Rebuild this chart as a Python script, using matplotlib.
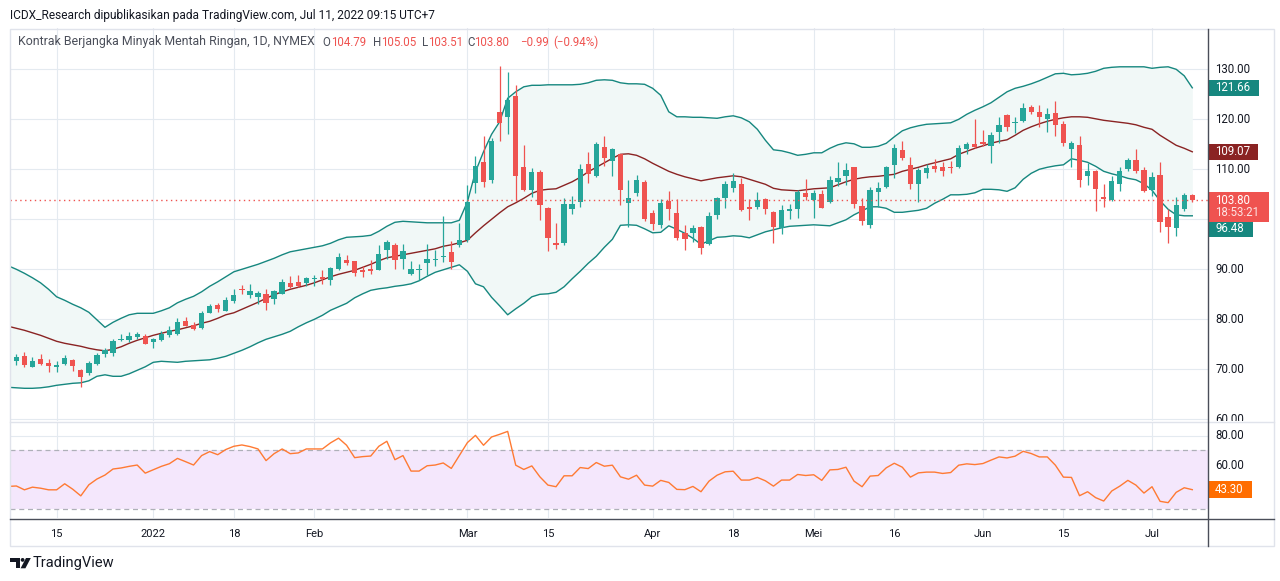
import numpy as np
import pandas as pd
import matplotlib
matplotlib.use('Agg')
import matplotlib.pyplot as plt
from matplotlib.patches import Rectangle, Polygon, Circle

W, H = 1280, 581
plt.rcParams['font.family'] = ['Roboto', 'DejaVu Sans']

#***** Data *****
holidays = ['2021-12-24', '2022-01-17', '2022-02-21', '2022-04-15',
            '2022-05-30', '2022-06-20', '2022-07-04']
dates = pd.bdate_range('2021-12-07', '2022-07-11', freq='C', holidays=holidays)

opens = [69.7, 71.73, 72.67, 70.53, 72.07, 71.27, 70.4, 71.07, 71.87, 69.87,
         69.2, 71.07, 73.0, 73.33, 75.87, 75.87, 76.53, 76.67, 75.47, 75.87,
         76.87, 77.07, 79.67, 78.87, 78.27, 81.33, 82.87, 81.73, 83.73, 85.93,
         84.87, 84.53, 85.07, 84.13, 85.13, 87.27, 87.47, 87.27, 88.0, 88.47,
         87.87, 90.07, 91.87, 91.67, 89.93, 90.07, 89.87, 93.87, 94.87, 92.07,
         89.07, 89.93, 91.33, 91.8, 92.4, 93.47, 94.87, 95.87, 107.2, 111.4,
         107.87, 121.4, 120.53, 124.67, 110.4, 105.87, 109.53, 102.33, 95.2, 95.33,
         102.07, 103.53, 111.07, 108.73, 114.47, 111.73, 113.0, 103.33, 105.2, 107.53,
         101.2, 98.87, 103.73, 101.2, 97.2, 97.2, 98.53, 95.07, 100.87, 104.2,
         106.33, 107.07, 102.47, 102.53, 104.07, 101.53, 98.33, 101.73, 102.07, 105.2,
         103.87, 105.07, 103.53, 107.53, 108.73, 110.47, 102.67, 98.87, 105.53, 106.53,
         110.87, 113.87, 110.87, 107.0, 109.2, 110.67, 110.4, 110.4, 110.53, 114.07,
         115.0, 115.4, 114.73, 117.53, 120.87, 119.2, 119.73, 122.4, 121.4, 120.07,
         121.2, 119.07, 114.07, 114.87, 108.67, 109.67, 104.4, 103.87, 107.07, 110.0,
         111.87, 109.87, 105.87, 108.87, 100.4, 98.2, 102.07, 104.79]
highs = [72.5, 73.07, 73.47, 72.4, 73.07, 72.07, 71.67, 72.87, 72.07, 70.13,
         71.67, 73.27, 74.2, 76.07, 77.07, 77.47, 77.47, 77.07, 76.27, 77.67,
         78.67, 80.27, 80.47, 79.47, 81.67, 83.07, 83.33, 84.47, 86.07, 86.8,
         87.07, 85.67, 86.07, 85.87, 88.07, 88.67, 88.87, 88.47, 88.87, 89.87,
         90.47, 93.27, 92.87, 91.67, 90.67, 91.87, 94.87, 95.87, 95.27, 95.07,
         91.67, 91.07, 95.07, 93.87, 100.67, 95.67, 99.2, 106.87, 112.67, 116.67,
         116.2, 130.67, 129.53, 126.87, 114.87, 110.2, 109.87, 102.53, 99.2, 104.2,
         104.67, 111.07, 113.4, 115.4, 116.67, 114.2, 113.0, 107.87, 108.87, 107.87,
         101.87, 104.0, 105.67, 104.07, 98.87, 98.87, 98.73, 101.53, 104.53, 107.67,
         109.2, 108.33, 104.07, 105.53, 104.33, 101.73, 102.87, 103.07, 105.87, 108.07,
         105.87, 105.87, 108.67, 111.53, 111.33, 110.47, 104.2, 106.53, 107.53, 110.73,
         115.07, 115.67, 112.53, 110.2, 111.07, 112.0, 111.53, 111.67, 114.87, 115.53,
         120.07, 117.87, 117.53, 120.53, 121.07, 120.53, 123.2, 122.87, 122.87, 122.33,
         123.67, 119.67, 115.67, 116.67, 111.33, 109.87, 107.07, 108.73, 110.53, 112.33,
         114.07, 110.53, 109.4, 111.4, 102.07, 104.4, 105.2, 105.05]
lows = [69.5, 70.87, 70.53, 70.4, 70.8, 69.53, 69.53, 70.93, 69.73, 66.4,
        68.87, 70.87, 72.4, 72.73, 75.73, 75.47, 76.13, 75.0, 74.27, 75.67,
        76.53, 76.87, 78.67, 77.87, 78.07, 81.2, 81.47, 81.6, 83.27, 85.07,
        84.33, 83.07, 81.93, 83.07, 85.07, 86.27, 86.4, 86.67, 86.67, 87.07,
        86.87, 89.87, 90.87, 88.67, 88.53, 89.07, 89.87, 92.07, 90.07, 90.07,
        88.87, 87.87, 88.87, 90.67, 91.53, 90.07, 94.53, 95.53, 105.33, 106.53,
        107.33, 115.67, 117.07, 103.73, 105.73, 104.53, 99.87, 93.67, 94.07, 94.87,
        101.07, 102.53, 107.33, 108.53, 110.73, 108.73, 102.87, 98.53, 104.73, 99.67,
        97.87, 98.2, 99.87, 95.87, 93.87, 95.4, 93.07, 94.87, 100.0, 102.33,
        105.53, 101.67, 99.87, 102.07, 101.07, 95.33, 97.07, 100.0, 100.33, 103.87,
        100.33, 102.2, 103.2, 106.67, 106.87, 102.33, 98.87, 98.33, 102.53, 106.33,
        108.33, 111.87, 106.07, 103.4, 108.33, 109.4, 108.73, 109.33, 110.33, 113.0,
        114.33, 114.73, 111.33, 115.2, 117.67, 117.33, 119.53, 121.0, 118.53, 117.53,
        116.73, 114.73, 110.53, 106.53, 106.87, 101.73, 102.53, 103.73, 105.67, 109.67,
        109.33, 105.4, 104.67, 97.53, 95.33, 96.73, 101.67, 103.51]
closes = [72.07, 72.4, 70.87, 71.67, 71.07, 70.73, 70.87, 72.27, 70.73, 68.53,
          71.27, 72.87, 73.93, 75.67, 76.07, 76.67, 77.07, 75.07, 76.07, 77.07,
          77.87, 79.47, 78.73, 78.07, 81.27, 82.67, 82.07, 83.87, 84.87, 85.8,
          85.67, 85.27, 83.33, 85.67, 87.47, 86.47, 86.67, 88.27, 88.2, 88.13,
          90.27, 92.47, 91.33, 89.33, 89.53, 89.73, 93.07, 95.47, 91.87, 93.67,
          90.0, 90.07, 92.07, 91.87, 92.73, 91.47, 95.87, 103.53, 110.67, 107.53,
          115.67, 119.33, 123.87, 108.73, 105.87, 109.53, 102.87, 96.33, 94.87, 103.07,
          103.07, 110.07, 109.07, 115.07, 112.33, 114.0, 105.87, 104.2, 107.87, 100.0,
          99.07, 103.2, 102.0, 96.2, 96.0, 98.2, 94.2, 100.67, 104.2, 107.0,
          107.67, 101.87, 102.13, 103.87, 102.0, 98.4, 101.87, 102.07, 105.53, 104.53,
          105.33, 102.33, 107.87, 108.27, 109.87, 103.0, 99.73, 105.87, 106.33, 110.47,
          114.2, 112.33, 107.0, 109.87, 110.2, 110.13, 109.73, 110.27, 114.2, 115.07,
          114.53, 115.0, 116.87, 118.87, 118.53, 119.4, 122.2, 121.53, 120.53, 121.0,
          118.87, 115.33, 115.2, 107.87, 109.67, 106.07, 104.07, 107.67, 109.67, 111.87,
          109.73, 105.67, 108.4, 99.53, 98.53, 102.87, 104.79, 103.80]

bb_upper = [90.7, 90.0, 89.2, 88.3, 87.3, 86.0, 84.5, 83.8, 83.0, 82.3,
            81.4, 79.9, 78.4, 79.4, 80.2, 80.9, 81.2, 81.2, 81.2, 81.7,
            82.3, 83.3, 84.0, 84.6, 85.5, 86.6, 87.5, 88.5, 89.5, 90.0,
            90.5, 91.0, 91.6, 92.2, 92.9, 93.5, 93.8, 94.1, 94.4, 94.7,
            95.2, 95.9, 96.4, 96.5, 96.6, 96.8, 97.6, 98.6, 99.4, 99.6,
            99.5, 99.4, 99.3, 99.3, 99.3, 99.3, 99.8, 103.5, 109.5, 113.5,
            117.0, 119.5, 124.2, 125.5, 126.5, 126.8, 126.8, 126.9, 126.9, 126.9,
            126.9, 127.0, 127.3, 127.8, 127.9, 127.8, 127.3, 127.1, 127.1, 127.0,
            126.2, 124.8, 121.5, 120.5, 120.5, 120.4, 120.4, 120.3, 120.2, 120.5,
            120.7, 120.3, 119.5, 118.0, 115.8, 113.9, 113.7, 113.3, 112.8, 113.0,
            113.3, 113.3, 114.2, 114.9, 115.3, 115.1, 114.4, 114.4, 114.6, 115.2,
            116.5, 117.7, 118.3, 118.7, 119.0, 119.1, 119.2, 119.3, 120.0, 121.0,
            121.8, 122.5, 123.3, 124.4, 125.5, 126.2, 126.6, 127.1, 127.7, 128.4,
            129.1, 129.2, 128.9, 129.0, 129.2, 129.6, 130.2, 130.4, 130.5, 130.5,
            130.5, 130.5, 130.2, 130.4, 130.5, 130.0, 128.7, 126.3]
bb_basis = [78.6, 78.2, 77.8, 77.3, 76.8, 76.2, 75.6, 75.2, 74.9, 74.6,
            74.2, 73.9, 73.7, 74.0, 74.5, 75.2, 75.8, 76.3, 76.8, 77.2,
            77.6, 77.9, 78.3, 78.7, 79.2, 79.6, 80.2, 80.9, 81.3, 82.0,
            82.7, 83.4, 84.2, 84.9, 85.5, 86.0, 86.4, 86.8, 87.3, 87.9,
            88.5, 89.0, 89.4, 89.8, 90.4, 91.0, 91.7, 92.3, 92.6, 92.9,
            93.2, 93.5, 93.8, 94.1, 94.6, 94.9, 95.3, 95.8, 97.3, 98.7,
            100.0, 101.3, 102.5, 103.3, 104.2, 105.2, 105.8, 106.0, 106.1, 106.8,
            107.5, 108.4, 109.5, 110.4, 111.3, 112.2, 113.0, 113.1, 112.8, 112.1,
            111.2, 110.4, 109.6, 109.0, 108.5, 108.1, 107.7, 108.0, 108.3, 108.5,
            108.7, 108.5, 108.0, 107.5, 107.0, 106.2, 105.9, 105.8, 105.7, 105.9,
            106.1, 106.2, 106.3, 106.9, 107.5, 108.0, 108.3, 108.5, 108.6, 108.8,
            109.0, 109.6, 110.0, 110.4, 110.9, 111.3, 111.7, 112.1, 113.0, 113.6,
            114.2, 114.7, 115.2, 115.6, 115.9, 116.8, 117.8, 118.5, 119.1, 119.6,
            120.0, 120.3, 120.5, 120.5, 120.4, 120.1, 119.8, 119.6, 119.4, 119.2,
            118.9, 118.4, 118.0, 116.8, 115.8, 114.8, 114.2, 113.5]
bb_lower = [66.4, 66.3, 66.2, 66.2, 66.3, 66.5, 66.8, 67.0, 67.2, 67.3,
            67.7, 68.6, 68.9, 68.6, 68.6, 69.1, 69.8, 70.5, 71.4, 71.6,
            71.5, 71.4, 71.6, 71.7, 71.8, 71.9, 72.2, 72.6, 73.2, 73.8,
            74.5, 75.3, 76.0, 76.5, 77.0, 77.6, 78.5, 79.3, 80.0, 80.8,
            81.8, 82.5, 83.2, 84.3, 85.1, 85.8, 86.1, 86.3, 86.6, 86.8,
            87.1, 87.7, 88.6, 89.4, 89.9, 90.4, 90.9, 89.6, 87.1, 86.5,
            84.4, 82.7, 80.9, 82.1, 83.2, 84.5, 85.0, 85.1, 85.4, 86.5,
            88.1, 89.6, 91.2, 92.6, 94.4, 96.0, 98.8, 98.9, 98.8, 98.1,
            97.3, 97.4, 98.7, 98.0, 97.2, 96.2, 95.0, 95.7, 96.4, 96.5,
            96.7, 96.6, 96.3, 96.9, 97.5, 97.9, 98.3, 98.6, 98.7, 98.8,
            98.9, 98.8, 98.7, 99.3, 99.9, 100.9, 101.7, 102.5, 102.5, 102.2,
            101.4, 101.4, 101.6, 101.8, 102.2, 103.2, 104.0, 104.9, 104.9, 105.0,
            105.3, 106.0, 106.0, 105.9, 105.6, 106.3, 108.0, 109.2, 110.0, 110.4,
            110.7, 110.9, 112.1, 111.8, 111.4, 110.6, 109.6, 109.1, 108.7, 108.2,
            107.9, 107.1, 105.8, 103.7, 102.0, 100.9, 100.7, 100.7]
rsi = [45.5, 45.8, 43.2, 45.0, 44.3, 43.2, 43.2, 47.3, 43.6, 39.1,
       46.6, 50.5, 53.2, 57.3, 58.0, 59.1, 60.0, 54.5, 56.8, 59.1,
       60.9, 64.5, 62.3, 60.0, 66.4, 69.1, 67.0, 70.5, 72.7, 73.6,
       72.5, 70.9, 63.0, 67.7, 70.9, 67.7, 68.2, 70.9, 70.9, 70.9,
       75.0, 78.2, 73.4, 65.0, 65.7, 66.1, 72.7, 76.1, 63.6, 66.4,
       55.9, 55.9, 59.5, 60.0, 61.4, 57.7, 66.5, 75.2, 80.1, 73.4,
       79.0, 80.8, 82.8, 59.9, 57.0, 59.4, 52.0, 46.4, 45.3, 52.7,
       52.7, 58.3, 57.6, 61.7, 59.2, 59.9, 52.0, 50.4, 53.1, 46.4,
       45.7, 49.6, 48.2, 43.5, 43.3, 45.5, 41.9, 49.1, 53.1, 55.4,
       55.8, 49.8, 49.8, 51.6, 49.3, 45.7, 49.8, 49.8, 53.6, 52.9,
       53.4, 49.6, 56.7, 57.0, 58.5, 49.1, 45.3, 52.5, 52.9, 58.1,
       61.2, 58.5, 51.8, 54.7, 55.2, 55.2, 54.3, 54.9, 59.9, 60.8,
       60.3, 61.0, 63.3, 65.5, 64.8, 66.0, 69.3, 67.8, 65.5, 65.5,
       59.9, 51.8, 51.6, 39.2, 41.9, 37.9, 35.6, 42.4, 45.7, 49.6,
       46.4, 41.0, 45.3, 35.4, 34.5, 41.5, 44.6, 43.3]

tick_dates = ['2021-12-15', '2022-01-03', '2022-01-18', '2022-02-01', '2022-03-01',
              '2022-03-15', '2022-04-01', '2022-04-18', '2022-05-02', '2022-05-16',
              '2022-06-01', '2022-06-15', '2022-07-01']
tick_labels = ['15', '2022', '18', 'Feb', 'Mar', '15', 'Apr', '18', 'Mei', '16',
               'Jun', '15', 'Jul']
price_ticks = [60, 70, 80, 90, 110, 120, 130]   # 100.00 sits under the price tags
rsi_ticks = [80, 60]
bb_labels = ['121.66', '109.07', '96.48']
countdown = '18:53:21'

#***** Colors *****
up_c, dn_c = '#26a69a', '#ef5350'
band_c, basis_c = '#16877f', '#8a2323'
grid_c = '#e4eaf0'
text_c = '#131722'
gray_c = '#4b4f5a'
rsi_c = '#ff7a33'

o, h, l, c = map(np.array, (opens, highs, lows, closes))
xs = np.arange(len(dates))
cols = np.where(c >= o, up_c, dn_c)
ticks = [dates.get_loc(pd.Timestamp(d)) for d in tick_dates]

fig = plt.figure(figsize=(W / 100, H / 100), dpi=100)
fig.patch.set_facecolor('white')

def box(left, top, right, bottom):
    return [left / W, 1 - bottom / H, (right - left) / W, (bottom - top) / H]

ax = fig.add_axes(box(10, 28, 1208, 421))
ax2 = fig.add_axes(box(10, 421.5, 1208, 518))
sax = fig.add_axes(box(1208, 28, 1273, 421))
rax = fig.add_axes(box(1208, 421.5, 1273, 518))

for a in (ax, ax2):
    a.set_xlim(0.21, 148.95)
    for s in a.spines.values():
        s.set_visible(False)
    a.tick_params(left=False, labelleft=False, bottom=False, labelbottom=False)
    for t in ticks:
        a.axvline(t, color=grid_c, lw=0.8, zorder=0)
ax.set_ylim(59.66, 138.26)
ax2.set_ylim(24.1, 89.5)
for p in price_ticks + [100]:
    ax.axhline(p, color=grid_c, lw=0.8, zorder=0)
for r in [40, 60, 80]:
    ax2.axhline(r, color=grid_c, lw=0.8, zorder=0)

#Bollinger bands
ax.fill_between(xs, bb_lower, bb_upper, color='#f1f8f7', lw=0, zorder=1)
ax.plot(xs, bb_upper, color=band_c, lw=1.0, zorder=2)
ax.plot(xs, bb_lower, color=band_c, lw=1.0, zorder=2)
ax.plot(xs, bb_basis, color=basis_c, lw=1.0, zorder=2)

#Candles
ax.vlines(xs, l, h, color=cols, lw=0.9, zorder=3)
ax.bar(xs, np.maximum(np.abs(c - o), 0.22), bottom=np.minimum(o, c), width=0.66,
       color=cols, lw=0, zorder=4)
ax.axhline(c[-1], color=dn_c, ls=(0, (1, 2.5)), lw=1, zorder=5)

#RSI
ax2.axhspan(30, 70, color='#f4e7fc', lw=0, zorder=0.5)
ax2.axhline(70, color='#aeb0b8', ls=(0, (4, 3)), lw=0.9, zorder=1)
ax2.axhline(30, color='#aeb0b8', ls=(0, (4, 3)), lw=0.9, zorder=1)
ax2.plot(xs, rsi, color=rsi_c, lw=1.0, zorder=3)
ax2.tick_params(bottom=False, labelbottom=True, pad=4.5, labelsize=8, labelcolor=text_c)
ax2.set_xticks(ticks, tick_labels)

#Right price scale
sax.set_ylim(ax.get_ylim())
rax.set_ylim(ax2.get_ylim())
for a in (sax, rax):
    a.set_xlim(0, 1)
    a.axis('off')
for p in price_ticks:
    sax.text(0.11, p, '%.2f' % p, ha='left', va='center', fontsize=8.3, color=text_c,
             clip_on=True, clip_box=sax.bbox, zorder=1)
for r in rsi_ticks:
    rax.text(0.11, r, '%.2f' % r, ha='left', va='center', fontsize=8.3, color=text_c,
             clip_on=True, clip_box=rax.bbox, zorder=1)

def tag(a, yc, half, width, bg, lines, fg, z, step=0.0):
    a.add_patch(Rectangle((0, yc - half), width, 2 * half, color=bg, lw=0,
                          clip_on=False, zorder=z))
    for k, s in enumerate(lines):
        a.text(0.11, yc - step * k, s, ha='left', va='center', fontsize=8.3,
               color=fg[k], clip_on=False, zorder=z + 0.5)

tag(sax, bb_upper[-1], 1.6, 0.79, band_c, [bb_labels[0]], ['white'], 3)
tag(sax, bb_basis[-1], 1.6, 0.77, basis_c, [bb_labels[1]], ['white'], 3)
tag(sax, 98.15, 1.6, 0.69, band_c, [bb_labels[2]], ['white'], 4)
sax.add_patch(Rectangle((0, c[-1] - 4.28), 0.94, 6.0, color=dn_c, lw=0, clip_on=False, zorder=5))
sax.text(0.11, c[-1] - 0.06, '%.2f' % c[-1], ha='left', va='center', fontsize=8.3,
         color='white', clip_on=False, zorder=5.5)
sax.text(0.11, c[-1] - 2.42, countdown, ha='left', va='center', fontsize=8.3,
         color='#fde3e3', clip_on=False, zorder=5.5)
tag(rax, rsi[-1], 5.8, 0.68, '#ff6d00', ['%.2f' % rsi[-1]], ['white'], 3)

#Overlay in pixel coordinates: frame, header, legend, logo
ov = fig.add_axes([0, 0, 1, 1])
ov.set_xlim(0, W)
ov.set_ylim(H, 0)
ov.axis('off')
ov.set_zorder(10)
ov.add_patch(Rectangle((9.5, 28.5), 1264, 517, fill=False, ec='#e0e3eb', lw=1))
ov.plot([9.5, 1273.5], [421.5, 421.5], color='#e0e3eb', lw=1)
ov.plot([9.5, 1273.5], [518.5, 518.5], color='#4a4e59', lw=1)
ov.plot([1208, 1208], [28.5, 545.5], color='#4a4e59', lw=1)

ov.text(10, 15, 'ICDX_Research dipublikasikan pada TradingView.com, Jul 11, 2022 09:15 UTC+7',
        ha='left', va='center', fontsize=8.6, color=text_c)
ov.text(18, 42, 'Kontrak Berjangka Minyak Mentah Ringan, 1D, NYMEX', ha='left', va='center',
        fontsize=8.9, color=gray_c)
chg = c[-1] - c[-2]
legend = [(322, 'O', gray_c), (331.5, '%.2f' % o[-1], dn_c),
          (373, 'H', gray_c), (381.5, '%.2f' % h[-1], dn_c),
          (422, 'L', gray_c), (428.5, '%.2f' % l[-1], dn_c),
          (467, 'C', gray_c), (474.5, '%.2f' % c[-1], dn_c),
          (520, ('%.2f' % chg).replace('-', '\u2212'), dn_c),
          (553, ('(%.2f%%)' % (chg / c[-2] * 100)).replace('-', '\u2212'), dn_c)]
for xp, s, col in legend:
    ov.text(xp, 42, s, ha='left', va='center', fontsize=8.3, color=col)

#TradingView logo
ov.add_patch(Polygon([(10, 558), (19.5, 558), (19.5, 568.3), (15.6, 568.3), (15.6, 561.6), (10, 561.6)],
                     closed=True, color=text_c, lw=0))
ov.add_patch(Circle((22.6, 559.9), 1.9, color=text_c, lw=0))
ov.add_patch(Polygon([(26.0, 558), (30.8, 558), (25.4, 568.3), (20.6, 568.3)], closed=True,
                     color=text_c, lw=0))
ov.text(33, 563, 'TradingView', ha='left', va='center', fontsize=10.5, color=text_c)

fig.savefig('out.png', dpi=100, facecolor='white')
